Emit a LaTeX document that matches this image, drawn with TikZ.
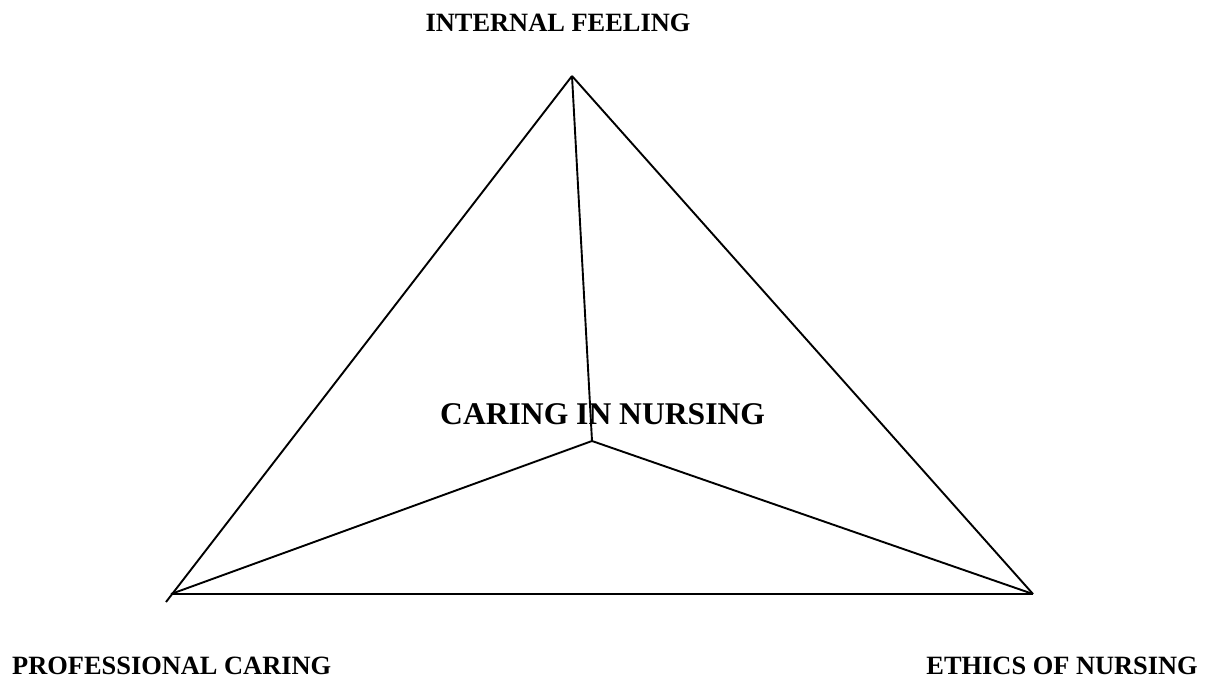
\documentclass[tikz,border=0pt]{standalone}
\usepackage{fontspec}
\setmainfont{Liberation Serif}
\begin{document}
\begin{tikzpicture}[x=1pt,y=-1pt,
  edge/.style={line width=1.9pt,black},
  lbl/.style={inner sep=0pt,font=\bfseries\fontsize{26.4}{30}\selectfont},
  title/.style={inner sep=0pt,font=\bfseries\fontsize{31.6}{36}\selectfont}]
\useasboundingbox (0,0) rectangle (1208,678);
\coordinate (apex) at (572,76);
\coordinate (bl) at (171,594);
\coordinate (bltail) at (166,602);
\coordinate (br) at (1033,594);
\coordinate (ctr) at (592,441);
\node[lbl,anchor=base] (top) at (558,31) {INTERNAL FEELING};
\node[lbl,anchor=base west] (prof) at (12,674) {PROFESSIONAL CARING};
\node[lbl,anchor=base east] (eth) at (1198,674) {ETHICS OF NURSING};
\node[title,anchor=base west] (care) at (440,424) {CARING IN NURSING};
\draw[edge] (apex) -- (bltail);
\draw[edge] (apex) -- (br);
\draw[edge] (bl) -- (br);
\draw[edge] (apex) -- (ctr);
\draw[edge] (ctr) -- (bl);
\draw[edge] (ctr) -- (br);
\end{tikzpicture}
\end{document}
